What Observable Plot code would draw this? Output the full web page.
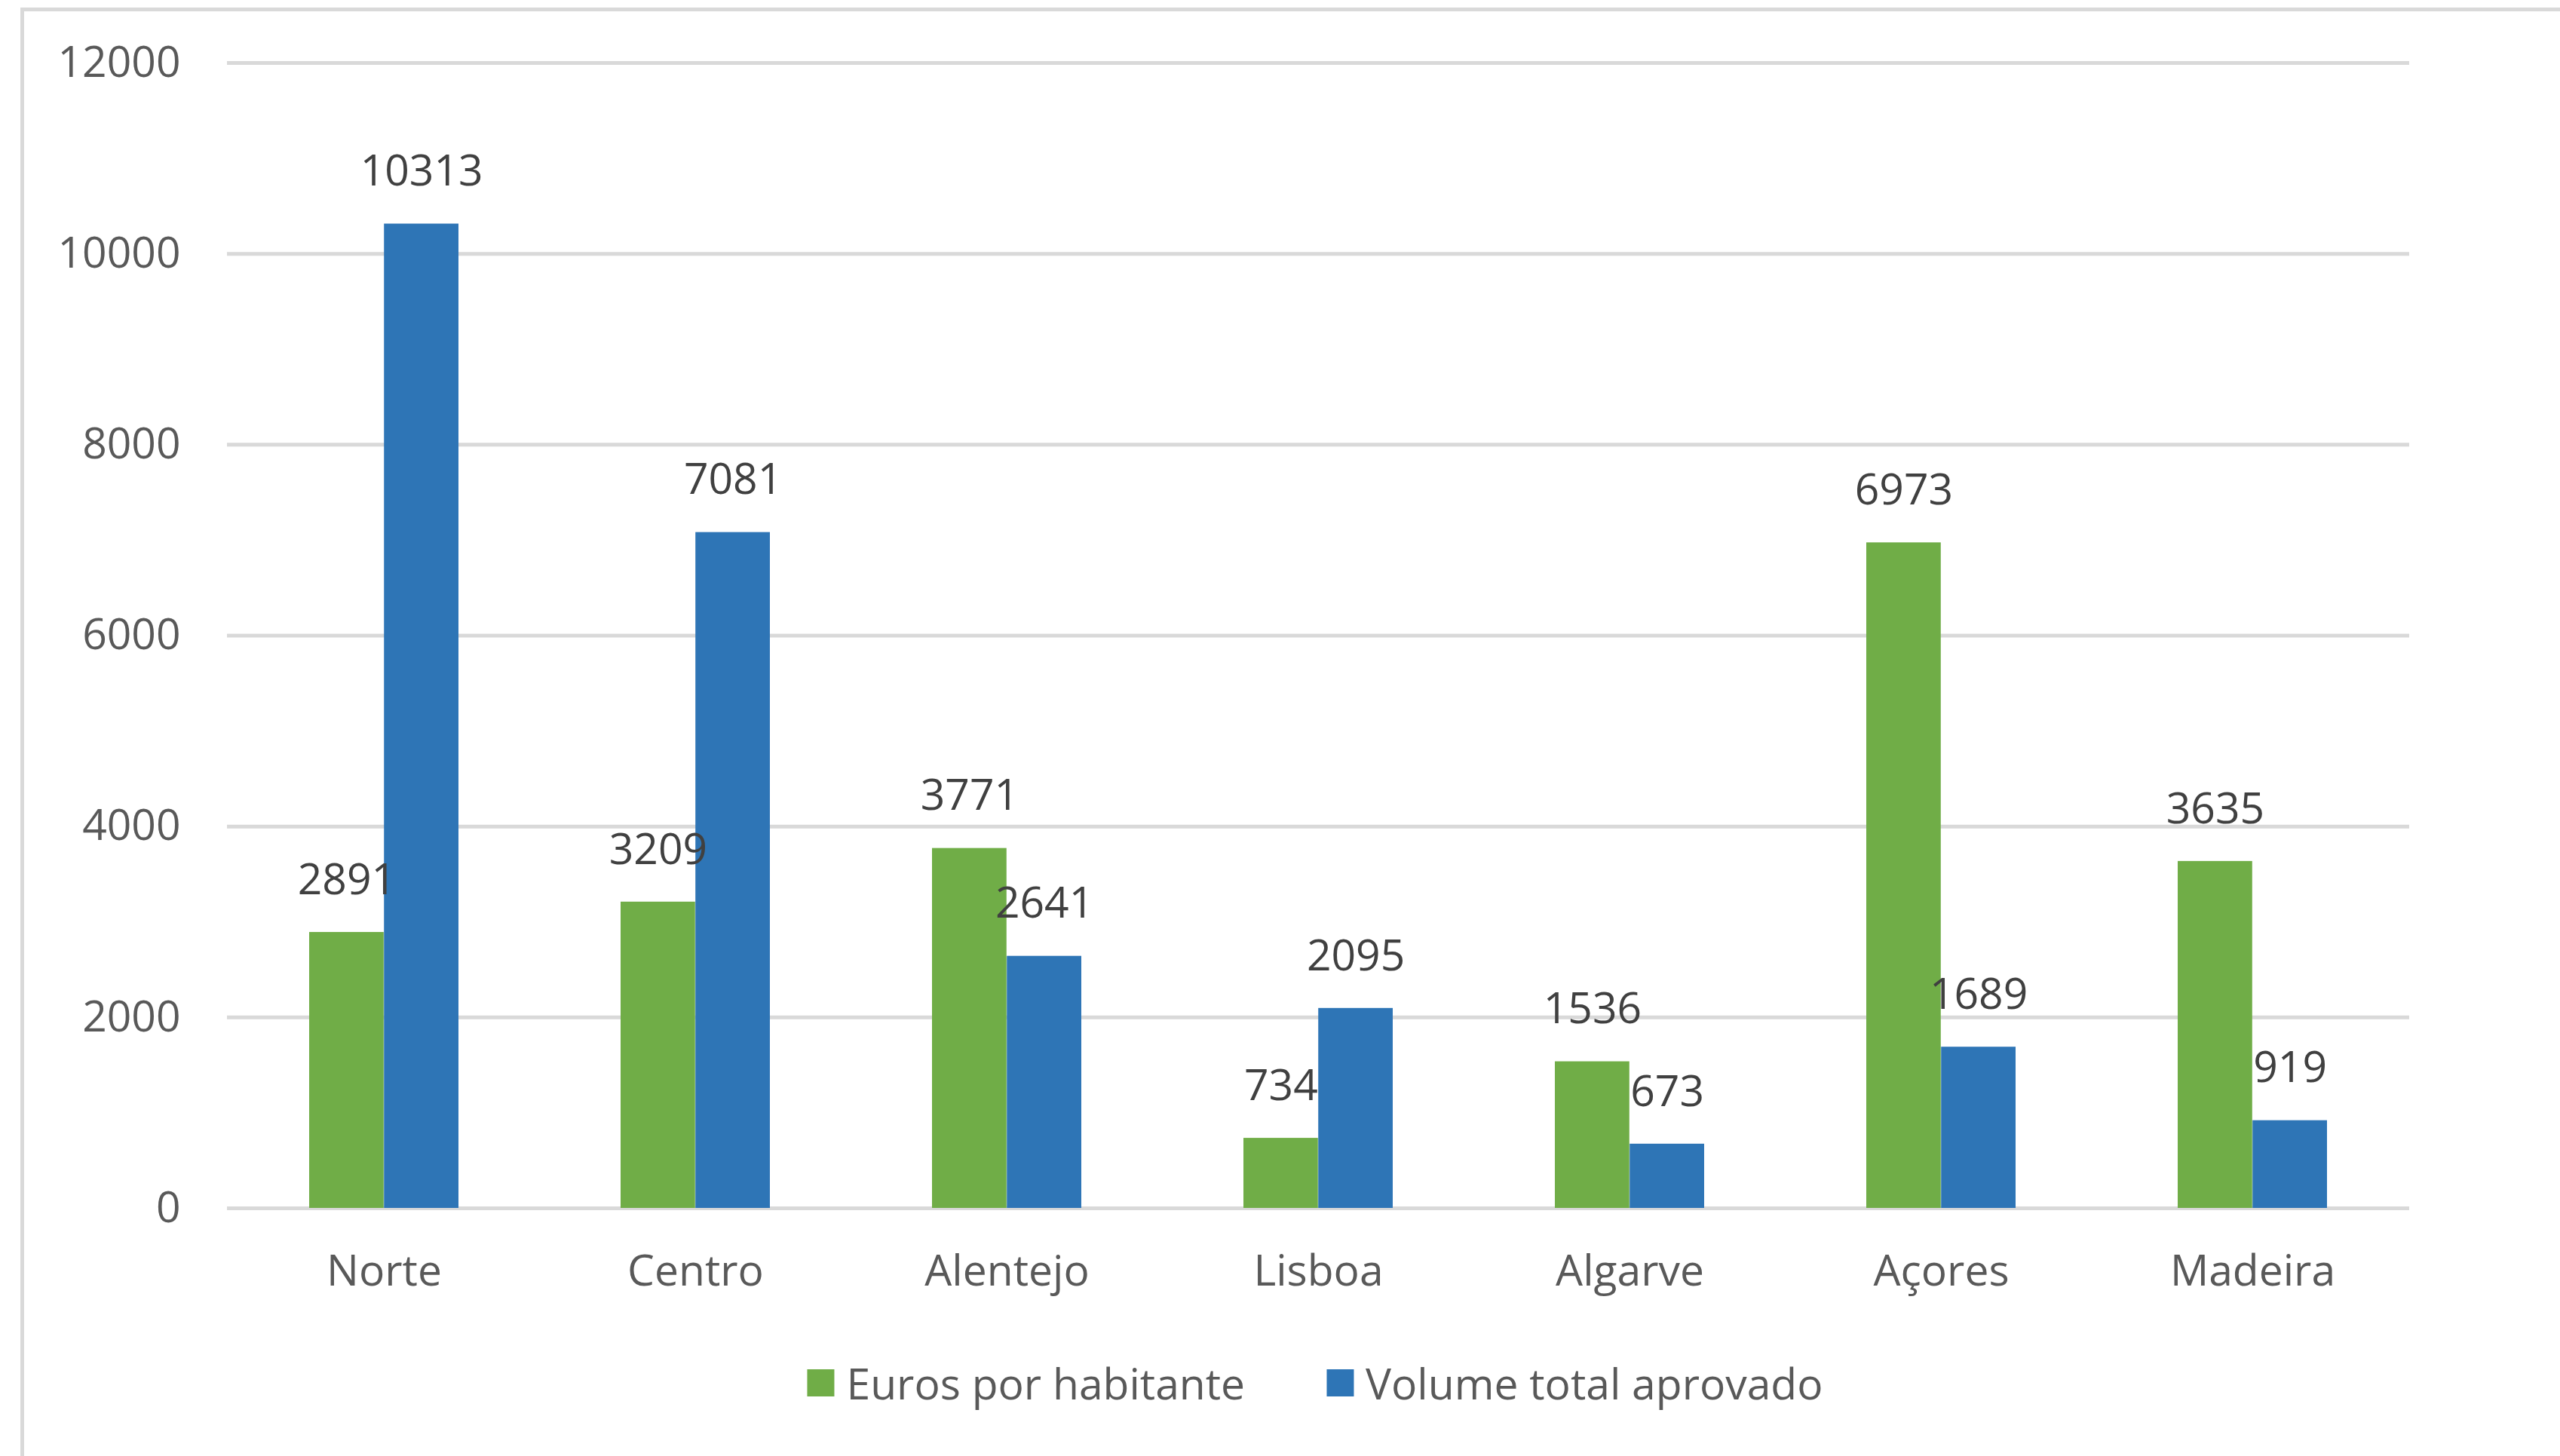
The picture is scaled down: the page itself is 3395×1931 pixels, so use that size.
<!DOCTYPE html>
<html>
<head>
<meta charset="utf-8">
<script src="https://cdn.jsdelivr.net/npm/d3@7"></script>
<script src="https://cdn.jsdelivr.net/npm/@observablehq/plot@0.6"></script>
<style>
  html, body { margin: 0; padding: 0; background: #ffffff; }
  body { width: 3395px; height: 1931px; overflow: hidden; position: relative; font-family: "Open Sans", sans-serif; }
  #frame { position: absolute; left: 27px; top: 10px; width: 3500px; height: 2100px; border: 5px solid #d9d9d9; box-sizing: border-box; }
  #chart { position: absolute; left: 0; top: 0; }
  #legend { position: absolute; top: 1802px; left: 1744px; transform: translateX(-50%); display: flex; align-items: center; white-space: nowrap; font-size: 57px; color: #595959; line-height: 64px; }
  .item { display: flex; align-items: center; }
  .sw { width: 36px; height: 36px; margin-right: 16px; }
</style>
</head>
<body>
<div id="frame"></div>
<div id="chart"></div>
<div id="legend"></div>
<script>
const categories = ["Norte", "Centro", "Alentejo", "Lisboa", "Algarve", "Açores", "Madeira"];
const eurosPorHabitante = [2891, 3209, 3771, 734, 1536, 6973, 3635];
const volumeTotalAprovado = [10313, 7081, 2641, 2095, 673, 1689, 919];
const seriesNames = ["Euros por habitante", "Volume total aprovado"];
const seriesColors = ["#70ad47", "#2e75b6"];
const yTicks = [0, 2000, 4000, 6000, 8000, 10000, 12000];

const greenData = categories.map((c, i) => ({category: c, series: seriesNames[0], value: eurosPorHabitante[i]}));
const blueData = categories.map((c, i) => ({category: c, series: seriesNames[1], value: volumeTotalAprovado[i]}));

const W = 3395, H = 1760;
const mL = 301, mR = 200, mT = 83, mB = 158;
const pIn = 0.52, pOut = 0.26;
const step = (W - mL - mR) / (categories.length - pIn + 2 * pOut);
const half = step * (1 - pIn) / 2;

const chart = Plot.plot({
  width: W, height: H,
  marginLeft: mL, marginRight: mR, marginTop: mT, marginBottom: mB,
  style: {fontFamily: "Open Sans", fontSize: "57px", color: "#595959", background: "transparent", overflow: "visible"},
  x: {domain: categories, paddingInner: pIn, paddingOuter: pOut, label: null},
  y: {domain: [0, 12000], label: null},
  color: {domain: seriesNames, range: seriesColors},
  marks: [
    Plot.ruleY(yTicks, {stroke: "#d9d9d9", strokeWidth: 5}),
    Plot.barY(greenData, {x: "category", y: "value", fill: "series", insetRight: half}),
    Plot.barY(blueData, {x: "category", y: "value", fill: "series", insetLeft: half}),
    Plot.text(greenData, {x: "category", y: "value", text: d => String(d.value), dx: -half / 2, dy: -69, fill: "#404040", fontSize: 57}),
    Plot.text(blueData, {x: "category", y: "value", text: d => String(d.value), dx: half / 2, dy: -69, fill: "#404040", fontSize: 57}),
    Plot.axisY({ticks: yTicks, tickSize: 0, tickPadding: 62, tickFormat: d => String(d), fontSize: 57, label: null}),
    Plot.axisX({tickSize: 0, tickPadding: 62, fontSize: 57, label: null})
  ]
});
document.getElementById("chart").appendChild(chart);

const legend = document.getElementById("legend");
seriesNames.forEach((name, i) => {
  const item = document.createElement("div");
  item.className = "item";
  if (i > 0) item.style.marginLeft = "108px";
  const sw = document.createElement("div");
  sw.className = "sw";
  sw.style.background = seriesColors[i];
  const label = document.createElement("span");
  label.textContent = name;
  item.appendChild(sw);
  item.appendChild(label);
  legend.appendChild(item);
});
</script>
</body>
</html>
